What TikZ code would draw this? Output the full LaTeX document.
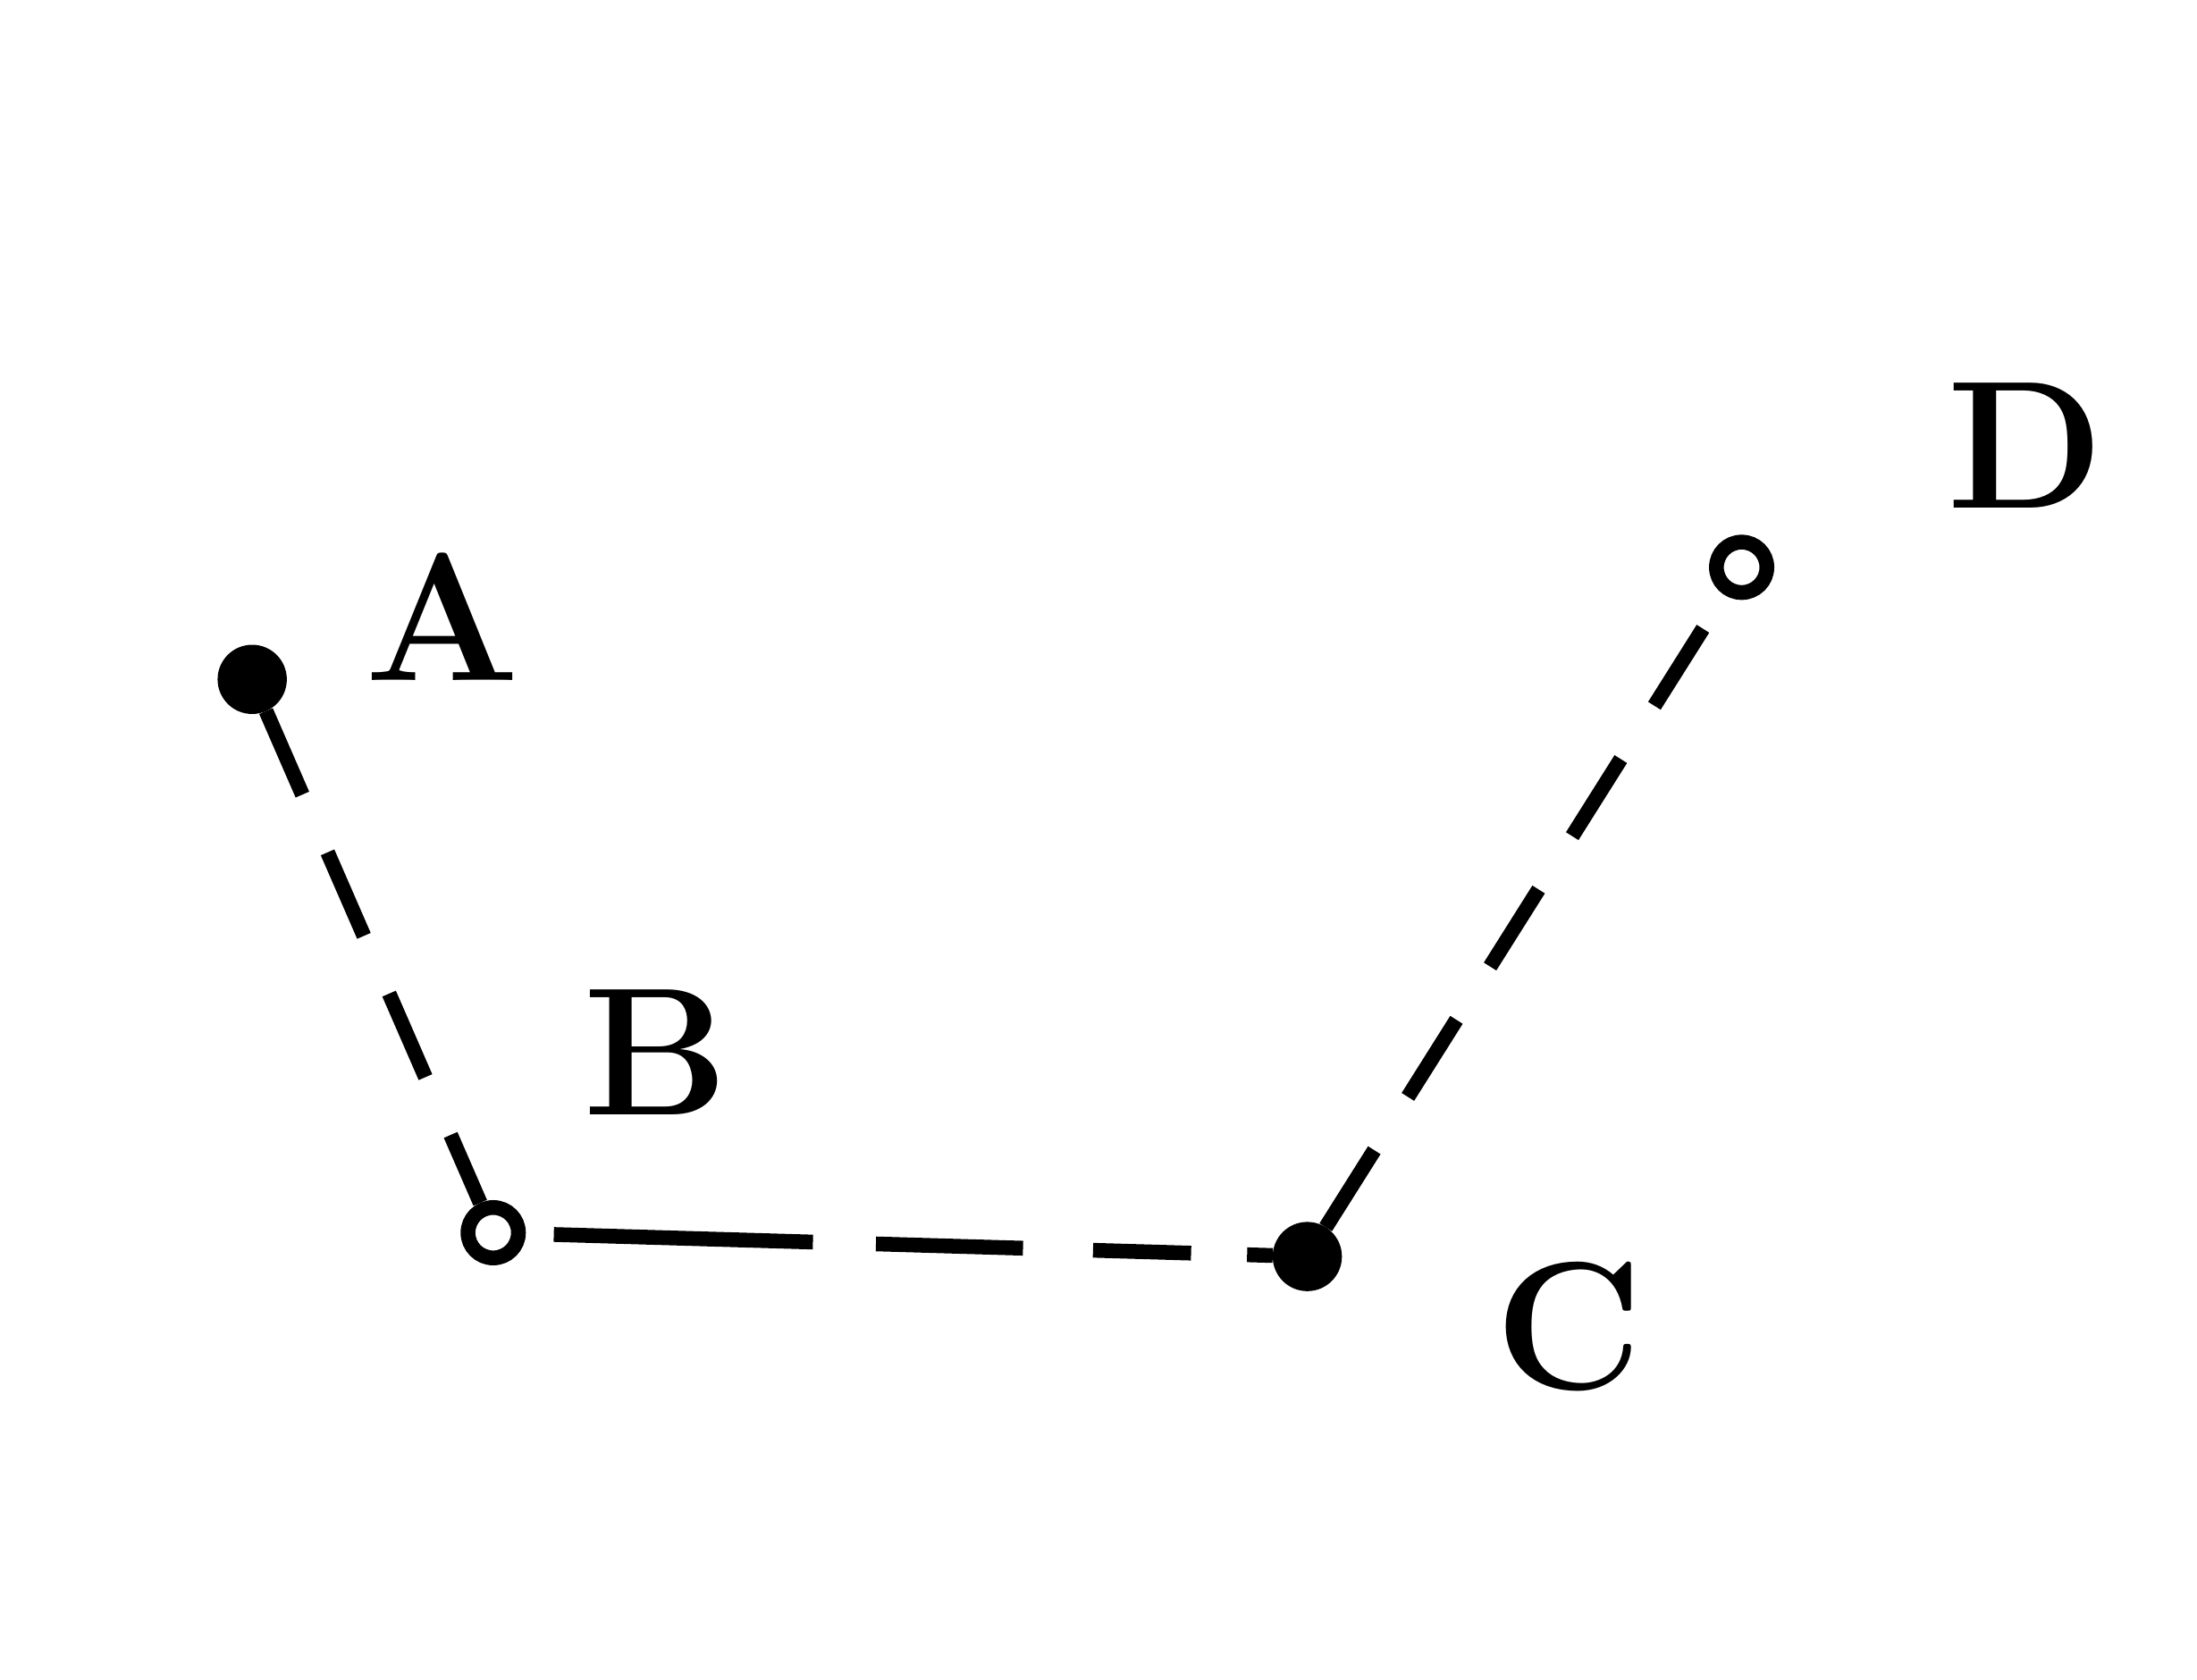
\documentclass[tikz,border=0pt]{standalone}
\usepackage{amsmath,amssymb,tikz}

\tikzset{
  fullpt/.style={circle,fill=black,draw=black,inner sep=0pt,minimum size=0.48cm},
  openpt/.style={circle,fill=white,draw=black,line width=3pt,inner sep=0pt,minimum size=0.36cm},
  ptlabel/.style={font=\fontsize{37}{40}\selectfont\bfseries},
  link/.style={line width=3pt,dash pattern=on 0.65cm off 0.45cm}
}

\begin{document}
\begin{tikzpicture}
              %\draw[help lines](0,0) grid(15,11);
              \useasboundingbox (0,0) rectangle (15.68,11.99);
              \node[fullpt] (a) at (1.80,7.14) {};
              \node[openpt] (b) at (3.52,3.19) {};
              \node[fullpt] (c) at (9.33,3.02) {};
              \node[openpt] (d) at (12.43,7.94) {};
              \node[ptlabel] (la) at (3.16,7.59) {A};
              \node[ptlabel] (lb) at (4.68,4.48) {B};
              \node[ptlabel] (lc) at (11.20,2.52) {C};
              \node[ptlabel] (ld) at (14.46,8.81) {D};
              \path[draw,link] (a)--(b);
              \path[draw,link,dash pattern=on 1.85cm off 0.45cm on 1.05cm off 0.5cm on 0.7cm off 0.4cm,shorten <=0.2cm] (b)--(c);
              \path[draw,link] (c)--(d);
            \end{tikzpicture}
\end{document}
